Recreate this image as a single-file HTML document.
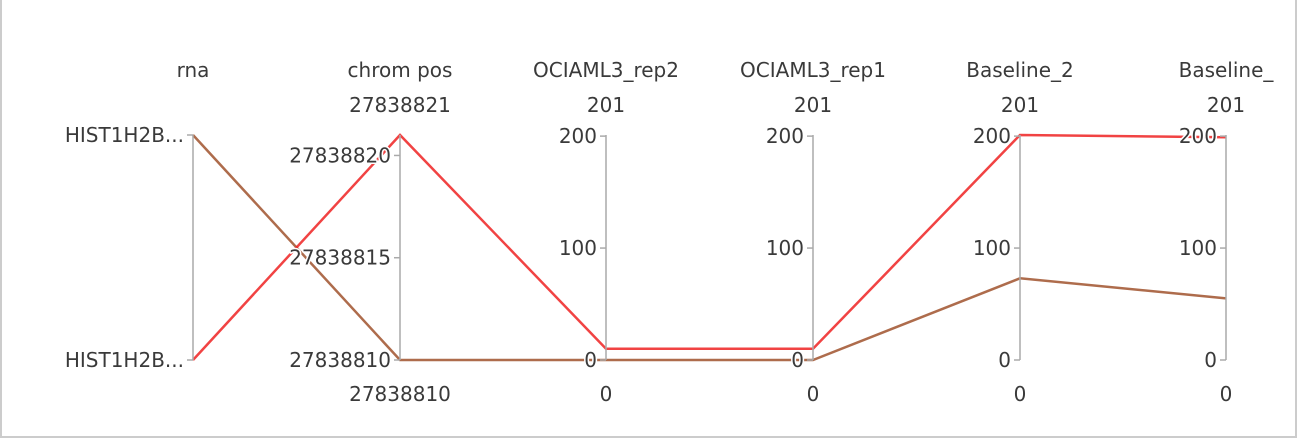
<!DOCTYPE html>
<html><head><meta charset="utf-8"><style>
html,body{margin:0;padding:0;background:#fff;}
svg{display:block;}
text{font-family:"DejaVu Sans","Liberation Sans",sans-serif;font-size:20px;fill:#3a3a3a;}
.halo{paint-order:stroke;stroke:#fff;stroke-width:3px;stroke-linejoin:round;}
</style></head><body>
<svg id="chart" width="1300" height="440">
<rect x="1" y="-2" width="1295" height="439" fill="none" stroke="#ccc" stroke-width="2"/>
<g id="lines"></g>
<g id="axes"></g>
</svg>
<script>
const dimensions = ["rna","chrom pos","OCIAML3_rep2","OCIAML3_rep1","Baseline_2","Baseline_"];
const rnaCategories = ["HIST1H2B...","HIST1H2B..."];
const chromRange = [27838810, 27838821];
const chromTicks = [27838810, 27838815, 27838820];
const numRange = [0, 201];
const numTicks = [0, 100, 200];
const seriesRed = [1, 27838821, 10, 10, 201, 199];
const seriesBrown = [0, 27838810, 0, 0, 73, 55];
const axisX = [193, 400, 606, 813, 1020, 1226];
const yTop = 135, yBot = 360;
function scale(v, r){ return yBot - (v - r[0])/(r[1]-r[0])*(yBot-yTop); }
function yFor(i, v){
  if(i===0) return v===0 ? yTop : yBot;
  if(i===1) return scale(v, chromRange);
  return scale(v, numRange);
}
const NS="http://www.w3.org/2000/svg";
const lines=document.getElementById('lines');
const axes=document.getElementById('axes');
function mk(tag, attrs, parent){ const e=document.createElementNS(NS,tag); for(const k in attrs) e.setAttribute(k,attrs[k]); parent.appendChild(e); return e; }
[[seriesBrown,'#a0522d','series-brown'],[seriesRed,'#ee2222','series-red']].forEach(([s,c,n])=>{
  const pts=s.map((v,i)=>axisX[i]+','+yFor(i,v).toFixed(1)).join(' ');
  const p=mk('polyline',{points:pts,fill:'none',stroke:c,'stroke-width':2.5,'stroke-opacity':0.85},lines);
  
  
});
dimensions.forEach((d,i)=>{
  const x=axisX[i];
  const g=mk('g',{},axes);
  
  
  mk('line',{x1:x,y1:yTop,x2:x,y2:yBot,stroke:'#aaa','stroke-width':1.5},g);
  const t=mk('text',{x:x,y:77,'text-anchor':'middle'},g); t.textContent=d;
  
  
  let ticks, labels, topL=null, botL=null;
  if(i===0){ ticks=[yTop,yBot]; labels=rnaCategories; }
  else if(i===1){ ticks=chromTicks.map(v=>scale(v,chromRange)); labels=chromTicks.map(String); topL=chromRange[1]; botL=chromRange[0]; }
  else { ticks=numTicks.map(v=>scale(v,numRange)); labels=numTicks.map(String); topL=numRange[1]; botL=numRange[0]; }
  ticks.forEach((ty,k)=>{
    mk('line',{x1:x-6,y1:ty,x2:x,y2:ty,stroke:'#aaa','stroke-width':1.5},g);
    const tl=mk('text',{x:x-9,y:ty+7,'text-anchor':'end',class:'halo'},g); tl.textContent=labels[k];
    
    
  });
  if(topL!==null){
    const a=mk('text',{x:x,y:112,'text-anchor':'middle'},g); a.textContent=topL;
    
    
    const b=mk('text',{x:x,y:401,'text-anchor':'middle'},g); b.textContent=botL;
    
    
  }
});
</script>
</body></html>
